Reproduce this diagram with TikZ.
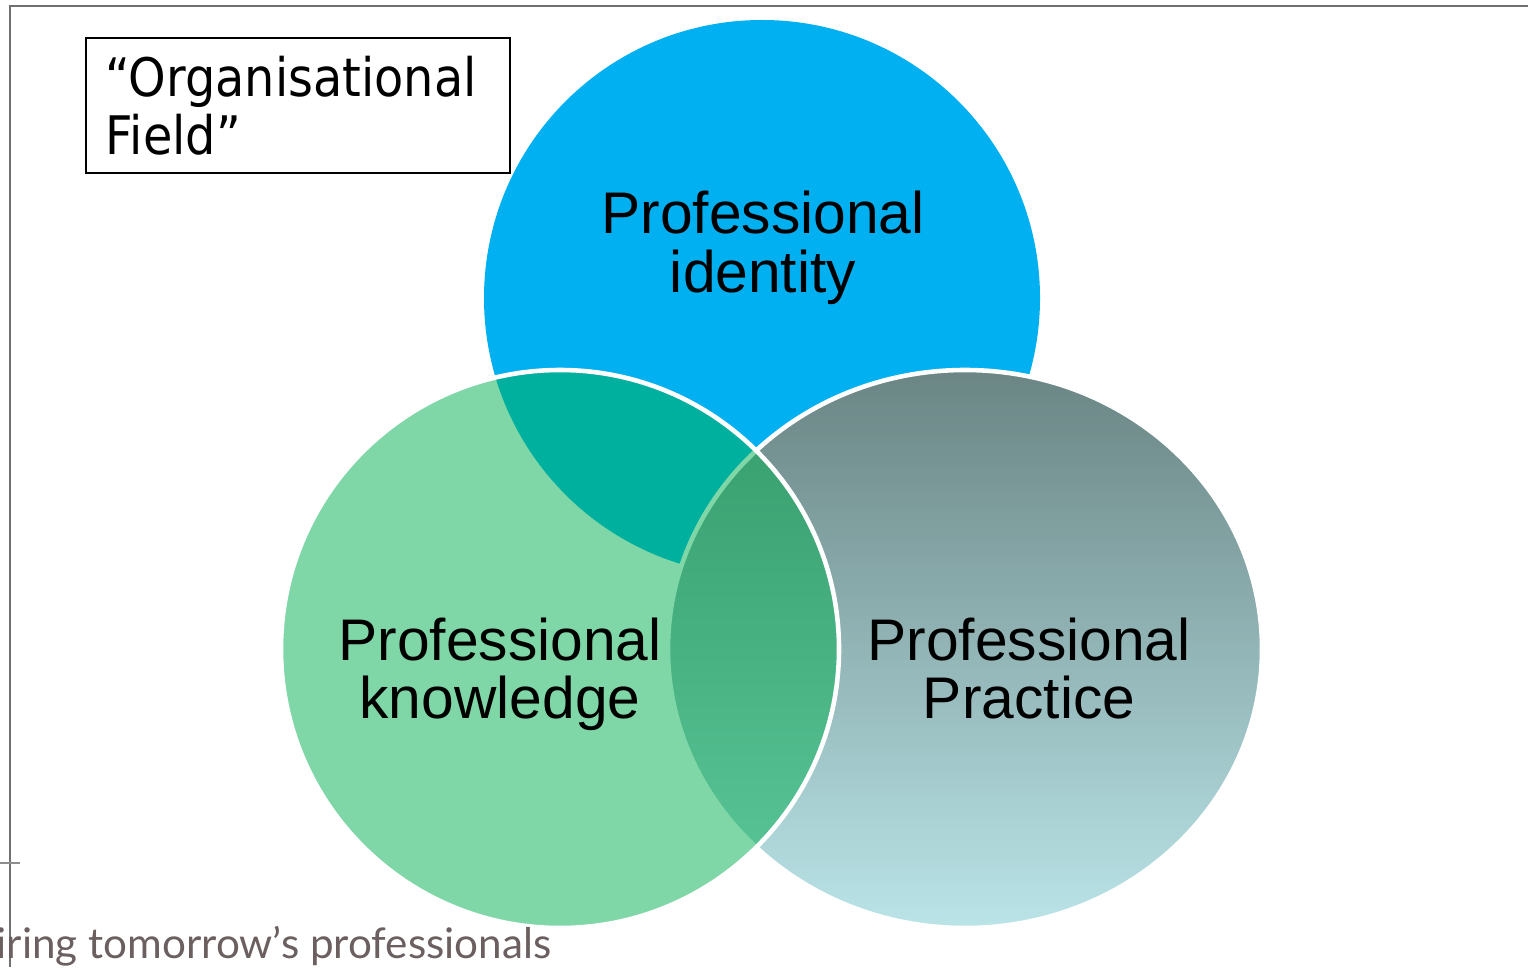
\documentclass[tikz,border=0pt]{standalone}
\usepackage{fontspec}
\setmainfont{Liberation Sans}
\newfontfamily\boxfont[FakeStretch=0.9]{DejaVu Sans}
\newfontfamily\tagfont{Lato}
\definecolor{pblue}{HTML}{00B0F0}
\definecolor{pgreen}{HTML}{00B050}
\definecolor{ptop}{HTML}{6A8584}
\definecolor{pbot}{HTML}{BAE4E8}
\definecolor{frame}{HTML}{707070}
\definecolor{tagcol}{HTML}{6B5F5F}
\tikzset{
  lbl/.style={anchor=base, inner sep=0pt, font=\fontsize{16.7}{17}\selectfont},
  boxtxt/.style={anchor=base west, inner sep=0pt, font=\boxfont\fontsize{15.1}{16.5}\selectfont},
  outline/.style={draw=white, line width=1.3pt}
}
\begin{document}
\begin{tikzpicture}[x=0.01cm,y=-0.01cm]
\useasboundingbox (0,0) rectangle (1528,967);
\fill[white] (0,0) rectangle (1528,967);
% frame lines
\coordinate (fTL) at (10,6);
\coordinate (fTR) at (1528,6);
\coordinate (fBL) at (10,967);
\coordinate (tickL) at (0,863);
\coordinate (tickR) at (20,863);
\draw[frame, line width=0.6pt] (fTR) -- (fTL) -- (fBL);
\draw[frame!80, line width=0.4pt] (tickL) -- (tickR);
% circles
\fill[pblue] (762,298) circle [radius=278];
\shade[top color=ptop, bottom color=pbot] (965,649) ellipse [x radius=297, y radius=279];
\draw[outline] (965,649) ellipse [x radius=297, y radius=279];
\fill[pgreen, fill opacity=0.5] (560,649) circle [radius=279];
\draw[outline] (560,649) circle [radius=279];
% labels
\node[lbl] (id1) at (763,234) {Professional};
\node[lbl] (id2) at (763,293) {identity};
\node[lbl] (kn1) at (500,660) {Professional};
\node[lbl] (kn2) at (500,718) {knowledge};
\node[lbl] (pr1) at (1029,660) {Professional};
\node[lbl] (pr2) at (1029,718) {Practice};
% organisational field box
\node (fieldbox) [draw, line width=0.55pt, anchor=north west, minimum width=4.24cm, minimum height=1.35cm, inner sep=0pt] at (85,37) {};
\node[boxtxt] (of1) at (105,97) {“Organisational};
\node[boxtxt] (of2) at (105,155) {Field”};
% tagline
\node[anchor=base west, inner sep=0pt, text=tagcol, font=\tagfont\fontsize{12}{14}\selectfont] (tag) at (-4,958) {iring tomorrow’s professionals};
\end{tikzpicture}
\end{document}
